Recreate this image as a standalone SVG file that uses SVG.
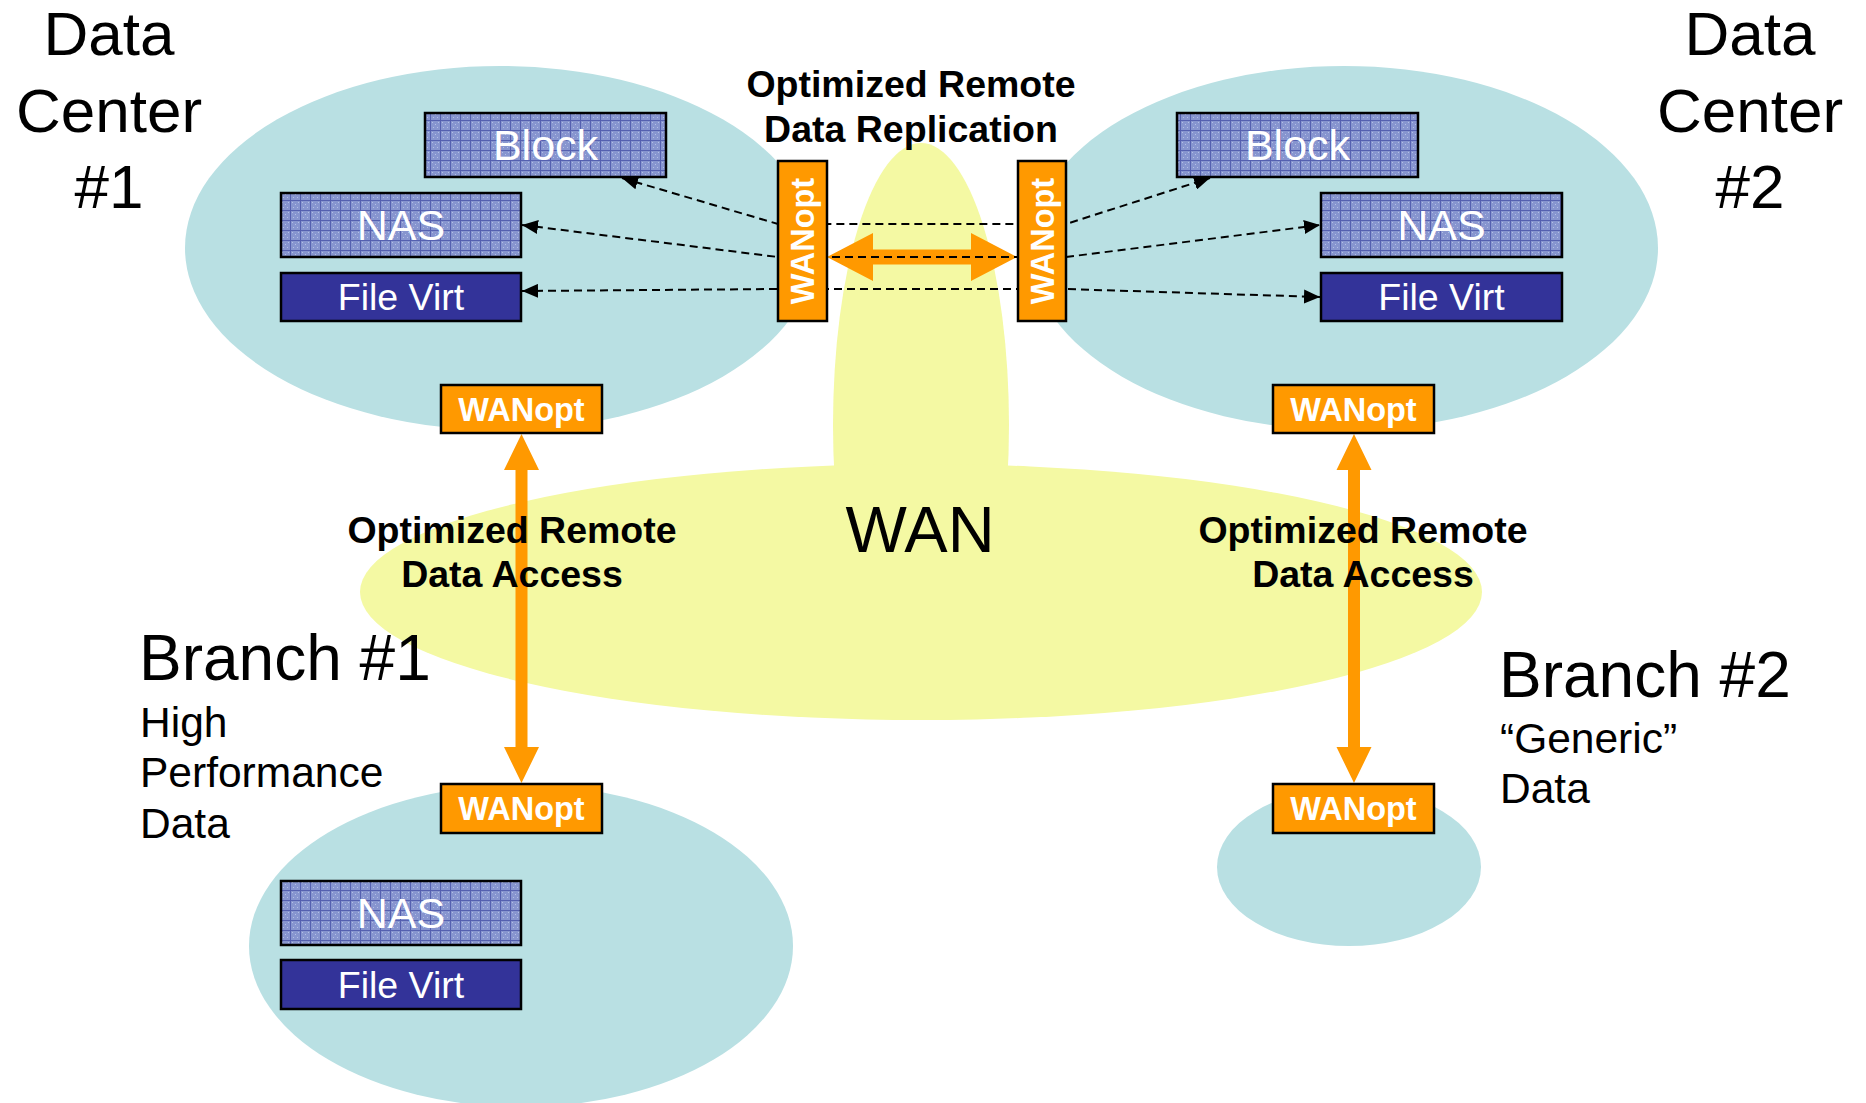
<svg xmlns="http://www.w3.org/2000/svg" width="1866" height="1103" viewBox="0 0 1866 1103">
  <style>
    text { font-family: "Liberation Sans", Arial, sans-serif; }
    .title { font-size: 62px; fill: #000; text-anchor: middle; }
    .branch { font-size: 64px; fill: #000; }
    .sub { font-size: 42.5px; fill: #000; }
    .flow { font-size: 37.5px; font-weight: bold; fill: #000; text-anchor: middle; }
    .wan { font-size: 65px; fill: #000; text-anchor: middle; }
    .site { fill: #b9e0e3; }
    .cloud { fill: #f4f9a3; }
    .store { fill: url(#grid); stroke: #000; stroke-width: 2.5; }
    .virt { fill: #333399; stroke: #000; stroke-width: 2.5; }
    .box-label { fill: #fff; text-anchor: middle; font-size: 43px; }
    .virt-label { fill: #fff; text-anchor: middle; font-size: 37.5px; }
    .opt { fill: #ff9900; stroke: #000; stroke-width: 2.5; }
    .opt-label { fill: #fff; font-weight: bold; font-size: 32.5px; text-anchor: middle; }
    .dash { fill: none; stroke: #000; stroke-width: 2; stroke-dasharray: 8 5; marker-start: url(#tip); marker-end: url(#tip); }
    .pipe { fill: #ff9900; }
  </style>
  <defs>
    <!-- woven texture for storage boxes -->
    <pattern id="grid" width="10" height="10" patternUnits="userSpaceOnUse">
      <rect width="10" height="10" fill="#8795cf"/>
      <rect x="2" y="2" width="1" height="1" fill="#b4bfe6"/>
      <rect x="5" y="4" width="1" height="1" fill="#b4bfe6"/>
      <rect x="7" y="7" width="1" height="1" fill="#b4bfe6"/>
      <rect x="3" y="7" width="1" height="1" fill="#b4bfe6"/>
      <rect x="8" y="2" width="1" height="1" fill="#b4bfe6"/>
      <rect x="0" y="0" width="1" height="10" fill="#5560b0"/>
      <rect x="0" y="0" width="10" height="1" fill="#5560b0"/>
    </pattern>
    <marker id="tip" markerUnits="userSpaceOnUse" markerWidth="16" markerHeight="14" refX="16" refY="7" orient="auto-start-reverse">
      <path d="M0,0 L16,7 L0,14 z" fill="#000"/>
    </marker>
  </defs>

  <!-- sites and WAN cloud -->
  <g id="regions">
    <ellipse class="cloud" cx="921" cy="425" rx="88" ry="282"/>
    <ellipse class="cloud" cx="921" cy="592" rx="561" ry="128"/>
    <ellipse class="site" cx="500" cy="248" rx="315" ry="182"/>
    <ellipse class="site" cx="1344" cy="248" rx="314" ry="182"/>
    <ellipse class="site" cx="521" cy="946" rx="272" ry="161"/>
    <ellipse class="site" cx="1349" cy="867" rx="132" ry="79"/>
  </g>

  <!-- site names -->
  <g id="labels">
    <text class="title" x="109" y="55">Data</text>
    <text class="title" x="109" y="132">Center</text>
    <text class="title" x="109" y="208">#1</text>
    <text class="title" x="1750" y="55">Data</text>
    <text class="title" x="1750" y="132">Center</text>
    <text class="title" x="1750" y="208">#2</text>
    <text class="wan" x="920" y="552">WAN</text>
    <text class="branch" x="139" y="680">Branch #1</text>
    <text class="sub" x="140" y="737">High</text>
    <text class="sub" x="140" y="787">Performance</text>
    <text class="sub" x="140" y="838">Data</text>
    <text class="branch" x="1499" y="697">Branch #2</text>
    <text class="sub" x="1500" y="753">“Generic”</text>
    <text class="sub" x="1500" y="803">Data</text>
  </g>

  <!-- links between appliances and storage -->
  <g id="connectors">
    <path id="rep-link" class="pipe" d="M827,257 L873,233 L873,249.5 L971,249.5 L971,233 L1017,257 L971,281 L971,264.5 L873,264.5 L873,281 z"/>
    <path id="access-link-1" class="pipe" d="M521.5,434 L539,470 L527.5,470 L527.5,747 L539,747 L521.5,783 L504,747 L515.5,747 L515.5,470 L504,470 z"/>
    <path id="access-link-2" class="pipe" d="M1354,434 L1371.5,470 L1360,470 L1360,747 L1371.5,747 L1354,783 L1336.5,747 L1348,747 L1348,470 L1336.5,470 z"/>
    <path id="sync-block" class="dash" d="M622,178 L778,224 L1066,224 L1210,178"/>
    <path id="sync-nas" class="dash" d="M522,225 L778,257 L1066,257 L1320,225"/>
    <path id="sync-virt" class="dash" d="M522,291 L778,289 L1066,289 L1320,297"/>
  </g>

  <!-- link captions -->
  <g id="link-labels">
    <text class="flow" x="911" y="97">Optimized Remote</text>
    <text class="flow" x="911" y="142">Data Replication</text>
    <text class="flow" x="512" y="543">Optimized Remote</text>
    <text class="flow" x="512" y="587">Data Access</text>
    <text class="flow" x="1363" y="543">Optimized Remote</text>
    <text class="flow" x="1363" y="587">Data Access</text>
  </g>

  <!-- data center 1 -->
  <g id="dc1-block">
    <rect class="store" x="425" y="113" width="241" height="64"/>
    <text class="box-label" x="545.5" y="160">Block</text>
  </g>
  <g id="dc1-nas">
    <rect class="store" x="281" y="193" width="240" height="64"/>
    <text class="box-label" x="401" y="240">NAS</text>
  </g>
  <g id="dc1-filevirt">
    <rect class="virt" x="281" y="273" width="240" height="48"/>
    <text class="virt-label" x="401" y="310">File Virt</text>
  </g>
  <g id="dc1-wanopt-rep">
    <rect class="opt" x="778" y="161" width="49" height="160"/>
    <text class="opt-label" transform="translate(814,241) rotate(-90)">WANopt</text>
  </g>
  <g id="dc1-wanopt-access">
    <rect class="opt" x="441" y="385" width="161" height="48"/>
    <text class="opt-label" x="521.5" y="421">WANopt</text>
  </g>

  <!-- data center 2 -->
  <g id="dc2-block">
    <rect class="store" x="1177" y="113" width="241" height="64"/>
    <text class="box-label" x="1297.5" y="160">Block</text>
  </g>
  <g id="dc2-nas">
    <rect class="store" x="1321" y="193" width="241" height="64"/>
    <text class="box-label" x="1441.5" y="240">NAS</text>
  </g>
  <g id="dc2-filevirt">
    <rect class="virt" x="1321" y="273" width="241" height="48"/>
    <text class="virt-label" x="1441.5" y="310">File Virt</text>
  </g>
  <g id="dc2-wanopt-rep">
    <rect class="opt" x="1018" y="161" width="48" height="160"/>
    <text class="opt-label" transform="translate(1054,241) rotate(-90)">WANopt</text>
  </g>
  <g id="dc2-wanopt-access">
    <rect class="opt" x="1273" y="385" width="161" height="48"/>
    <text class="opt-label" x="1353.5" y="421">WANopt</text>
  </g>

  <!-- branch 1 -->
  <g id="br1-wanopt">
    <rect class="opt" x="441" y="784" width="161" height="49"/>
    <text class="opt-label" x="521.5" y="820">WANopt</text>
  </g>
  <g id="br1-nas">
    <rect class="store" x="281" y="881" width="240" height="64"/>
    <text class="box-label" x="401" y="928">NAS</text>
  </g>
  <g id="br1-filevirt">
    <rect class="virt" x="281" y="960" width="240" height="49"/>
    <text class="virt-label" x="401" y="998">File Virt</text>
  </g>

  <!-- branch 2 -->
  <g id="br2-wanopt">
    <rect class="opt" x="1273" y="784" width="161" height="49"/>
    <text class="opt-label" x="1353.5" y="820">WANopt</text>
  </g>
</svg>
